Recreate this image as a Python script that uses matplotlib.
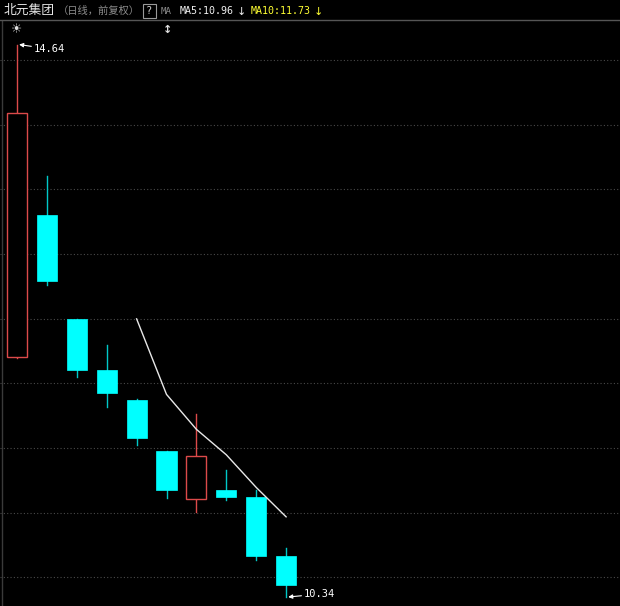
import numpy as np
import pandas as pd
import matplotlib
matplotlib.use("Agg")
import matplotlib.pyplot as plt
from matplotlib.patches import Rectangle
from matplotlib.lines import Line2D

plt.rcParams['font.family'] = ['Noto Sans CJK SC', 'DejaVu Sans']

# ---- data ----
opens  = [12.21, 13.31, 12.50, 12.11, 11.87, 11.48, 11.10, 11.17, 11.12, 10.66]
highs  = [14.64, 13.62, 12.50, 12.30, 11.88, 11.48, 11.765, 11.33, 11.17, 10.72]
lows   = [12.20, 12.77, 12.05, 11.82, 11.52, 11.11, 11.00, 11.095, 10.63, 10.34]
closes = [14.11, 12.80, 12.11, 11.93, 11.575, 11.17, 11.44, 11.12, 10.66, 10.43]
grid_levels = 14.52 - 0.5035 * np.arange(9)

stock_name = "北元集团"
period_label = "（日线，前复权）"

# ---- derived ----
s = pd.Series(closes)
ma5 = s.rolling(5).mean()
ma10 = s.rolling(10).mean()

W, H = 620, 606
fig = plt.figure(figsize=(W / 100, H / 100), dpi=100, facecolor='black')
top_px = 20
ax = fig.add_axes([0, 0, 1, (H - top_px) / H])
ax.set_facecolor('black')
ax.set_xlim(-0.5686, 20.167)
ax.set_ylim(10.27, 14.831)
ax.axis('off')

RED = '#dc4a4a'
CYAN = '#00ffff'
bw = 0.67

for lvl in grid_levels:
    ax.axhline(lvl, color='#4a4a4a', lw=0.8, ls=(0, (1, 2)), zorder=0)

for i, (o, h, l, c) in enumerate(zip(opens, highs, lows, closes)):
    if c >= o:
        ax.add_patch(Rectangle((i - bw / 2, o), bw, c - o, facecolor='black',
                               edgecolor=RED, lw=1.0, zorder=3))
        ax.plot([i, i], [c, h], color=RED, lw=1.0, zorder=2)
        ax.plot([i, i], [l, o], color=RED, lw=1.0, zorder=2)
    else:
        ax.plot([i, i], [l, h], color='#00c8c8', lw=1.0, zorder=2)
        ax.add_patch(Rectangle((i - bw / 2, c), bw, o - c, facecolor=CYAN,
                               edgecolor=CYAN, lw=0.5, zorder=3))

ax.plot(np.arange(len(closes)), ma5, color='#e8e8e8', lw=1.0, zorder=4)
ax.plot(np.arange(len(closes)), ma10, color='#ffff00', lw=1.0, zorder=4)

# high / low annotations
ih = int(np.argmax(highs))
il = int(np.argmin(lows))
mono = 'DejaVu Sans Mono'
ax.annotate(f"{highs[ih]:.2f}", xy=(ih + 0.07, highs[ih]), xytext=(15, -4.5),
            textcoords='offset pixels', color='white', fontsize=7.5, family=mono,
            ha='left', va='center',
            arrowprops=dict(arrowstyle='-|>', color='white', lw=0.8,
                            mutation_scale=6, shrinkA=0, shrinkB=0))
ax.annotate(f"{lows[il]:.2f}", xy=(il + 0.07, lows[il]), xytext=(16, 3),
            textcoords='offset pixels', color='white', fontsize=7.5, family=mono,
            ha='left', va='center',
            arrowprops=dict(arrowstyle='-|>', color='white', lw=0.8,
                            mutation_scale=6, shrinkA=0, shrinkB=0))

# left border line
ax.axvline(-0.5, color='#3a3a3a', lw=1.0, zorder=1)

# header
def ft(xp, yp, txt, **kw):
    fig.text(xp / W, 1 - yp / H, txt, ha='left', va='center', **kw)

fig.add_artist(Line2D([0, 1], [1 - top_px / H] * 2, transform=fig.transFigure,
                      color='#555555', lw=1.0))
ft(4, 10.5, stock_name, color='#e6e6e6', fontsize=9.2)
ft(58, 10.5, period_label, color='#8c8c8c', fontsize=7.4)
fig.add_artist(Rectangle((143 / W, 1 - 18 / H), 13 / W, 14 / H,
                         transform=fig.transFigure, facecolor='none',
                         edgecolor='#9a9a9a', lw=0.8))
ft(146, 11, "?", color='#d0d0d0', fontsize=7.5, family=mono)
ft(161, 11, "MA", color='#8c8c8c', fontsize=6.6, family=mono)
ft(180, 11, f"MA5:{ma5.iloc[-1]:.2f}", color='#f0f0f0', fontsize=7.2, family=mono)
ft(237, 12, "↓", color='#f0f0f0', fontsize=8, family='DejaVu Sans')
ft(251, 11, f"MA10:{ma10.iloc[-1]:.2f}", color='#ffff33', fontsize=7.2, family=mono)
ft(314, 12, "↓", color='#ffff33', fontsize=8, family='DejaVu Sans')

# toolbar symbols
ft(11, 30, "☀", color='#e0e0e0', fontsize=9, family='DejaVu Sans')
ft(163, 30, "↕", color='#e0e0e0', fontsize=8, family='DejaVu Sans', fontweight='bold')

fig.savefig('out.png', dpi=100, facecolor='black')
